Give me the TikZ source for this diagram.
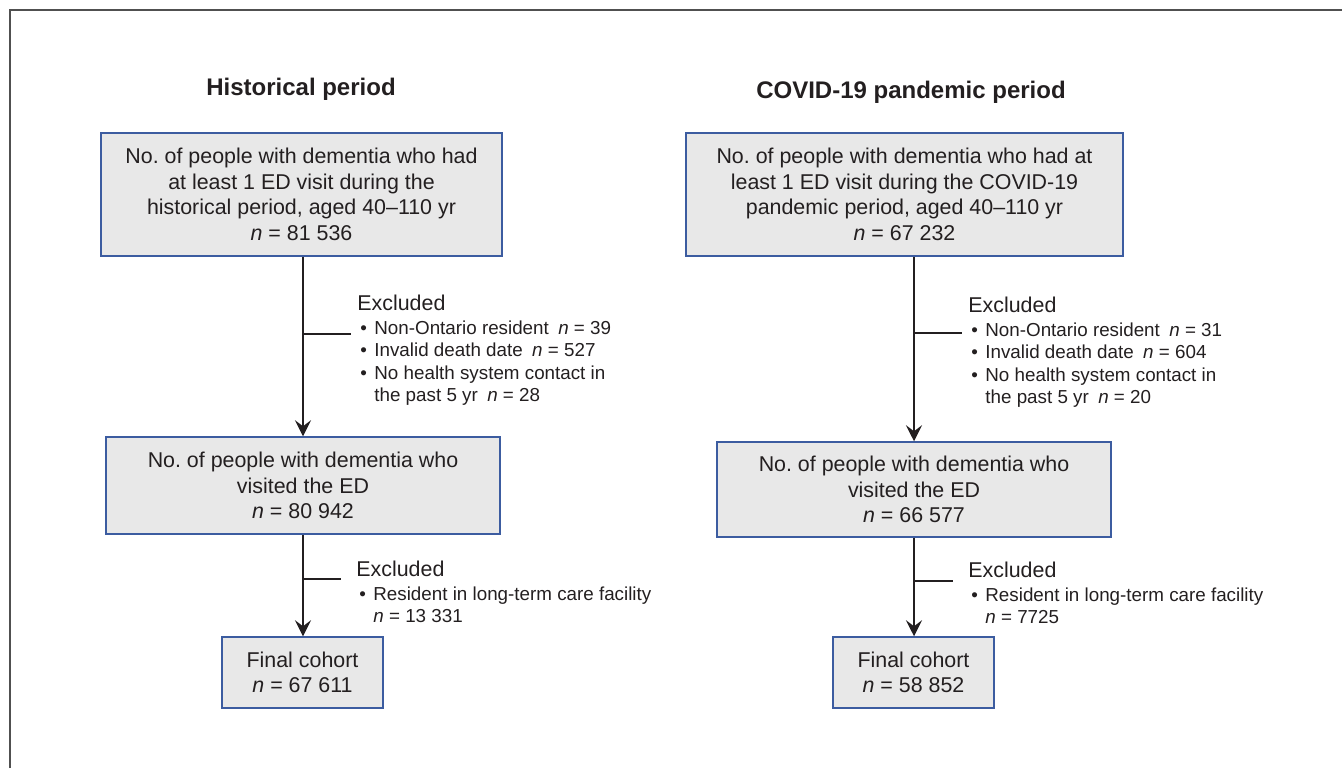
\documentclass[tikz,border=0pt]{standalone}
\usepackage{fontspec}
\setmainfont{Liberation Sans}
\usetikzlibrary{arrows.meta}
\frenchspacing

\definecolor{boxblue}{RGB}{60,92,160}
\definecolor{boxgray}{RGB}{232,232,232}
\definecolor{inkgray}{RGB}{35,31,32}
\definecolor{framegray}{RGB}{80,80,80}

\newcommand{\exsize}{\fontsize{9.4}{11.2}\selectfont}
\newcommand{\exbullet}{\exsize\makebox[8.5pt][l]{\hspace{1.5pt}\textbullet}}
\newcommand{\exindent}{\exsize\hspace*{8.5pt}}

\begin{document}
\begin{tikzpicture}[x=0.5pt, y=-0.5pt,
    every node/.style={text=inkgray, font=\fontsize{10.7}{12.8}\selectfont},
    stagebox/.style={draw=boxblue, line width=0.75pt, fill=boxgray, align=center, inner sep=0pt},
    periodtitle/.style={anchor=base, font=\fontsize{12}{14}\selectfont\bfseries},
    exclbox/.style={anchor=base west, inner xsep=3pt, inner ysep=0pt, font=\fontsize{10.7}{11.2}\selectfont},
    flow/.style={draw=inkgray, line width=1pt},
    flowarrow/.style={flow, -{Stealth[length=8pt, width=8pt, inset=3pt]}}]
    \useasboundingbox (0, 0) rectangle (1342, 768);
    \draw[framegray, line width=0.75pt] (10, 768) -- (10, 10) -- (1342, 10);
    % historical period
    \node[periodtitle] (HT) at (301, 95) {Historical period};
    \node[stagebox, minimum width=200.5pt, minimum height=61.5pt] (H1) at (301.5, 194.5)
      {No. of people with dementia who had\\at least 1 ED visit during the\\historical period, aged 40--110 yr\\\textit{n} = 81~536};
    \node[stagebox, minimum width=197pt, minimum height=48.5pt] (H2) at (303, 485.5)
      {No. of people with dementia who\\visited the ED\\\textit{n} = 80~942};
    \node[stagebox, minimum width=80.5pt, minimum height=35.5pt] (H3) at (302.5, 672.5)
      {Final cohort\\\textit{n} = 67~611};
    \node[exclbox] (HX1) at (351, 310.5) {\begin{tabular}[t]{@{}l@{}}
        Excluded\\[0.8pt]
        \exbullet Non-Ontario resident\enspace\textit{n} = 39\\
        \exbullet Invalid death date\enspace\textit{n} = 527\\
        \exbullet No health system contact in\\
        \exindent the past 5 yr\enspace\textit{n} = 28
      \end{tabular}};
    \node[exclbox, inner xsep=7.5pt] (HX2) at (341, 576.5) {\begin{tabular}[t]{@{}l@{}}
        Excluded\\[0.8pt]
        \exbullet Resident in long-term care facility\\
        \exindent\textit{n} = 13~331
      \end{tabular}};
    \coordinate (HJ1) at (303, 334);
    \coordinate (HJ2) at (303, 579);
    \draw[flowarrow] (H1.south -| H2.north) -- (H2.north);
    \draw[flow] (HJ1) -- (HJ1 -| HX1.west);
    \draw[flowarrow] (H2.south) -- (H2.south |- H3.north);
    \draw[flow] (HJ2) -- (HJ2 -| HX2.west);
    % COVID-19 pandemic period
    \begin{scope}[shift={(611, 0)}]
      \node[periodtitle] (CT) at (300, 98) {COVID-19 pandemic period};
      \node[stagebox, minimum width=218.5pt, minimum height=61.5pt] (C1) at (293.5, 194.5)
        {No. of people with dementia who had at\\least 1 ED visit during the COVID-19\\pandemic period, aged 40--110 yr\\\textit{n} = 67~232};
      \node[stagebox, minimum width=197pt, minimum height=47.5pt] (C2) at (303, 489.5)
        {No. of people with dementia who\\visited the ED\\\textit{n} = 66~577};
      \node[stagebox, minimum width=80.5pt, minimum height=35.5pt] (C3) at (302.5, 672.5)
        {Final cohort\\\textit{n} = 58~852};
      \node[exclbox] (CX1) at (351, 312.5) {\begin{tabular}[t]{@{}l@{}}
          Excluded\\[0.8pt]
          \exbullet Non-Ontario resident\enspace\textit{n} = 31\\
          \exbullet Invalid death date\enspace\textit{n} = 604\\
          \exbullet No health system contact in\\
          \exindent the past 5 yr\enspace\textit{n} = 20
        \end{tabular}};
      \node[exclbox, inner xsep=7.5pt] (CX2) at (342, 577.5) {\begin{tabular}[t]{@{}l@{}}
          Excluded\\[0.8pt]
          \exbullet Resident in long-term care facility\\
          \exindent\textit{n} = 7725
        \end{tabular}};
      \coordinate (CJ1) at (303, 333);
      \coordinate (CJ2) at (303, 581);
      \draw[flowarrow] (C1.south -| C2.north) -- (C2.north);
      \draw[flow] (CJ1) -- (CJ1 -| CX1.west);
      \draw[flowarrow] (C2.south) -- (C2.south |- C3.north);
      \draw[flow] (CJ2) -- (CJ2 -| CX2.west);
    \end{scope}
\end{tikzpicture}
\end{document}
